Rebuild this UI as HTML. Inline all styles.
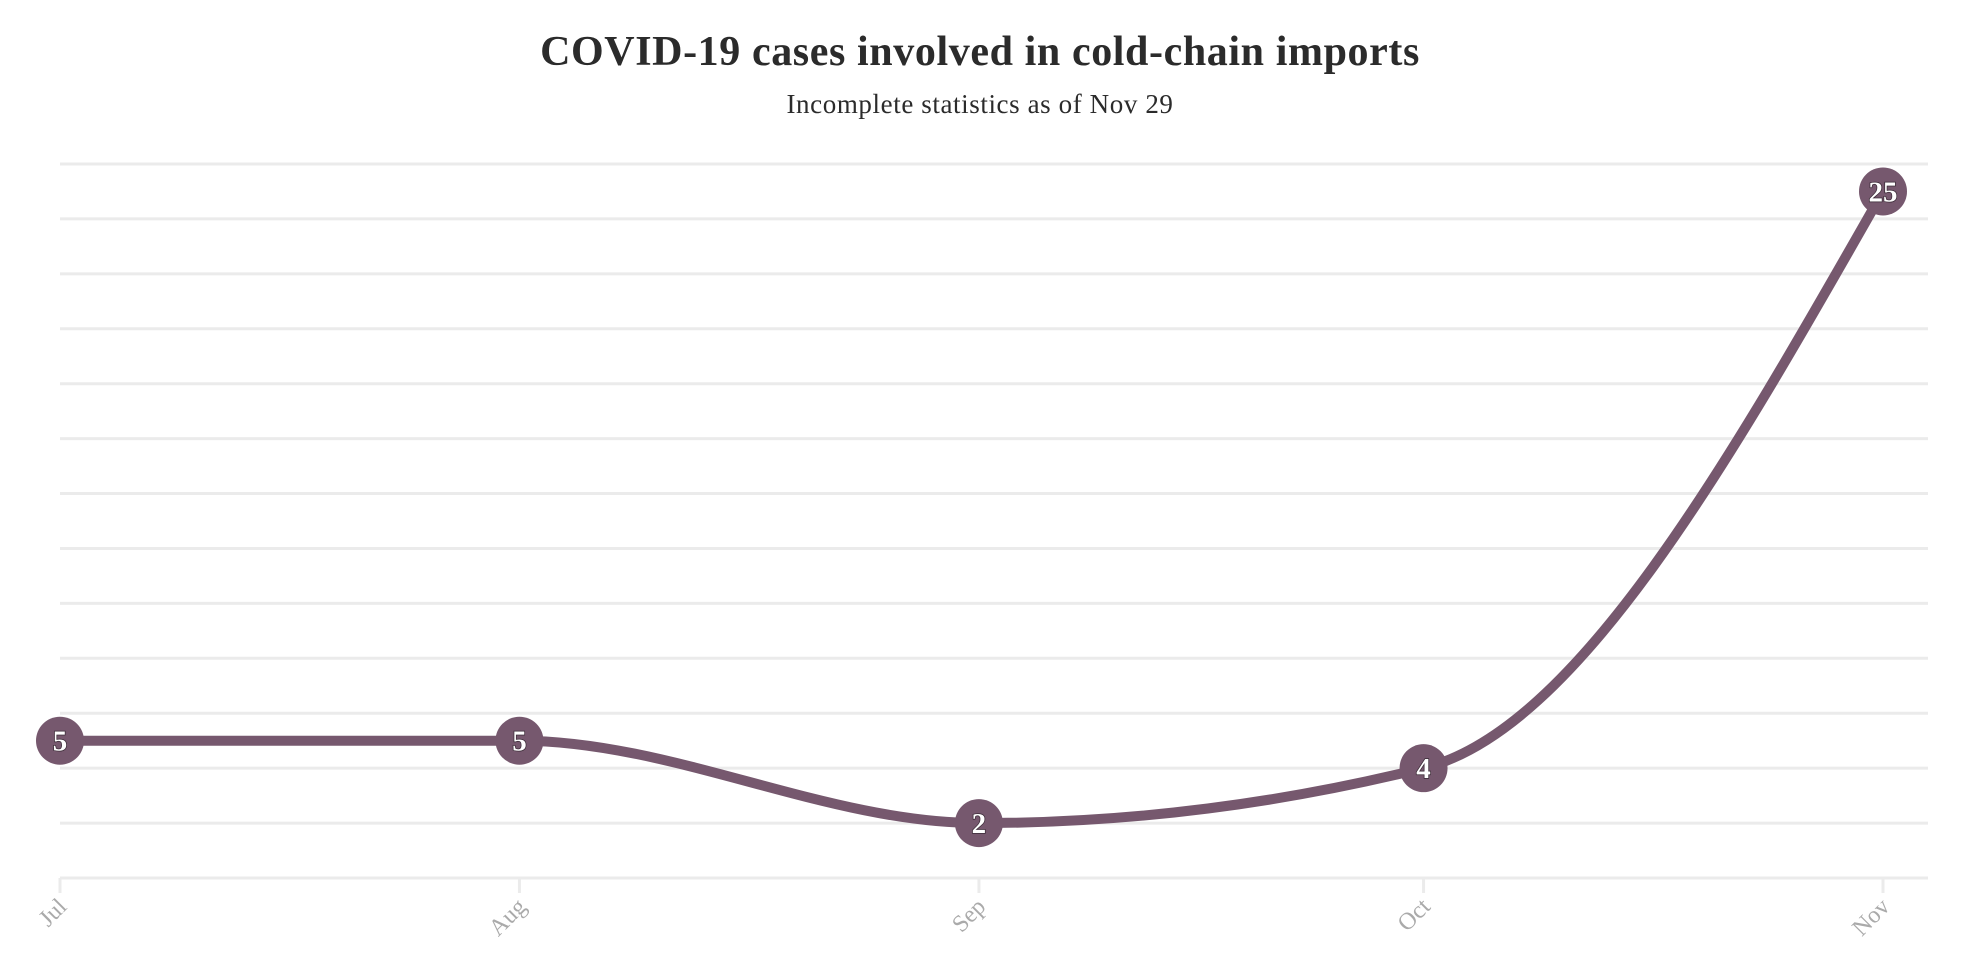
<!DOCTYPE html>
<html><head><meta charset="utf-8">
<style>
html,body{margin:0;padding:0;background:#fff;}
svg{display:block;}
text{font-family:"Liberation Serif",serif;}
</style></head>
<body>
<svg id="chart" width="1966" height="965" viewBox="0 0 1966 965" xmlns="http://www.w3.org/2000/svg">
<text x="980" y="65" text-anchor="middle" font-size="42" font-weight="bold" letter-spacing="0.6" fill="#2b2b2b">COVID-19 cases involved in cold-chain imports</text>
<text x="980" y="113" text-anchor="middle" font-size="27" letter-spacing="0.6" fill="#2b2b2b">Incomplete statistics as of Nov 29</text>
<g id="grid"></g><g id="xaxis"></g><g id="series"></g><g id="points"></g>
</svg>
<script>
const categories = ["Jul","Aug","Sep","Oct","Nov"];
const dayOffsets = [0,31,62,92,123];
const values = [5,5,2,4,25];
const yTicks = [0,2,4,6,8,10,12,14,16,18,20,22,24,26];

const NS="http://www.w3.org/2000/svg";
const X0=60,X1=1883,Y0=878,Y1=164,GX1=1928;
const xs=d=>X0+(X1-X0)*d/dayOffsets[dayOffsets.length-1];
const ys=v=>Y0-(Y0-Y1)*v/26;
function mk(tag,attrs,parent){const e=document.createElementNS(NS,tag);for(const k in attrs)e.setAttribute(k,attrs[k]);parent.appendChild(e);return e;}
const grid=document.getElementById('grid');
yTicks.forEach(t=>{
  const l=mk('line',{x1:X0,x2:GX1,y1:ys(t),y2:ys(t),stroke:'#ebebeb','stroke-width':3},grid);
  
  
});
const xa=document.getElementById('xaxis');
categories.forEach((c,i)=>{
  const x=xs(dayOffsets[i]);
  const tk=mk('line',{x1:x,x2:x,y1:Y0,y2:Y0+15,stroke:'#ebebeb','stroke-width':3},xa);
  
  
  const t=mk('text',{x:x+8,y:Y0+30,'text-anchor':'end','font-size':24,fill:'#aaaaaa',transform:`rotate(-45 ${x+8} ${Y0+30})`},xa);
  t.textContent=c;
  
  
});
// monotone X
const px=dayOffsets.map(xs), py=values.map(ys), n=px.length;
const h=[],s=[];for(let i=0;i<n-1;i++){h[i]=px[i+1]-px[i];s[i]=(py[i+1]-py[i])/h[i];}
const m=new Array(n);
for(let i=1;i<n-1;i++){
  const s0=s[i-1],s1=s[i],h0=h[i-1],h1=h[i];
  const p=(s0*h1+s1*h0)/(h0+h1);
  m[i]=(Math.sign(s0)+Math.sign(s1))*Math.min(Math.abs(s0),Math.abs(s1),0.5*Math.abs(p))||0;
}
m[0]=(3*s[0]-m[1])/2; if(Math.sign(m[0])!==Math.sign(s[0]))m[0]=0;
m[n-1]=(3*s[n-2]-m[n-2])/2;
let d=`M${px[0]},${py[0]}`;
for(let i=0;i<n-1;i++){const dx=h[i]/3;d+=` C${px[i]+dx},${py[i]+dx*m[i]} ${px[i+1]-dx},${py[i+1]-dx*m[i+1]} ${px[i+1]},${py[i+1]}`;}
const path=mk('path',{d:d,fill:'none',stroke:'#76586e','stroke-width':10,'stroke-linecap':'round'},document.getElementById('series'));


const pts=document.getElementById('points');
values.forEach((v,i)=>{
  const c=mk('circle',{cx:px[i],cy:py[i],r:24,fill:'#76586e'},pts);
  
  
  const t=mk('text',{x:px[i],y:py[i]+10,'text-anchor':'middle','font-size':29,'font-weight':'bold',fill:'#fff',stroke:'#3a2a36','stroke-width':1.5,'paint-order':'stroke'},pts);
  t.textContent=v;
  
  
});
</script>
</body></html>
